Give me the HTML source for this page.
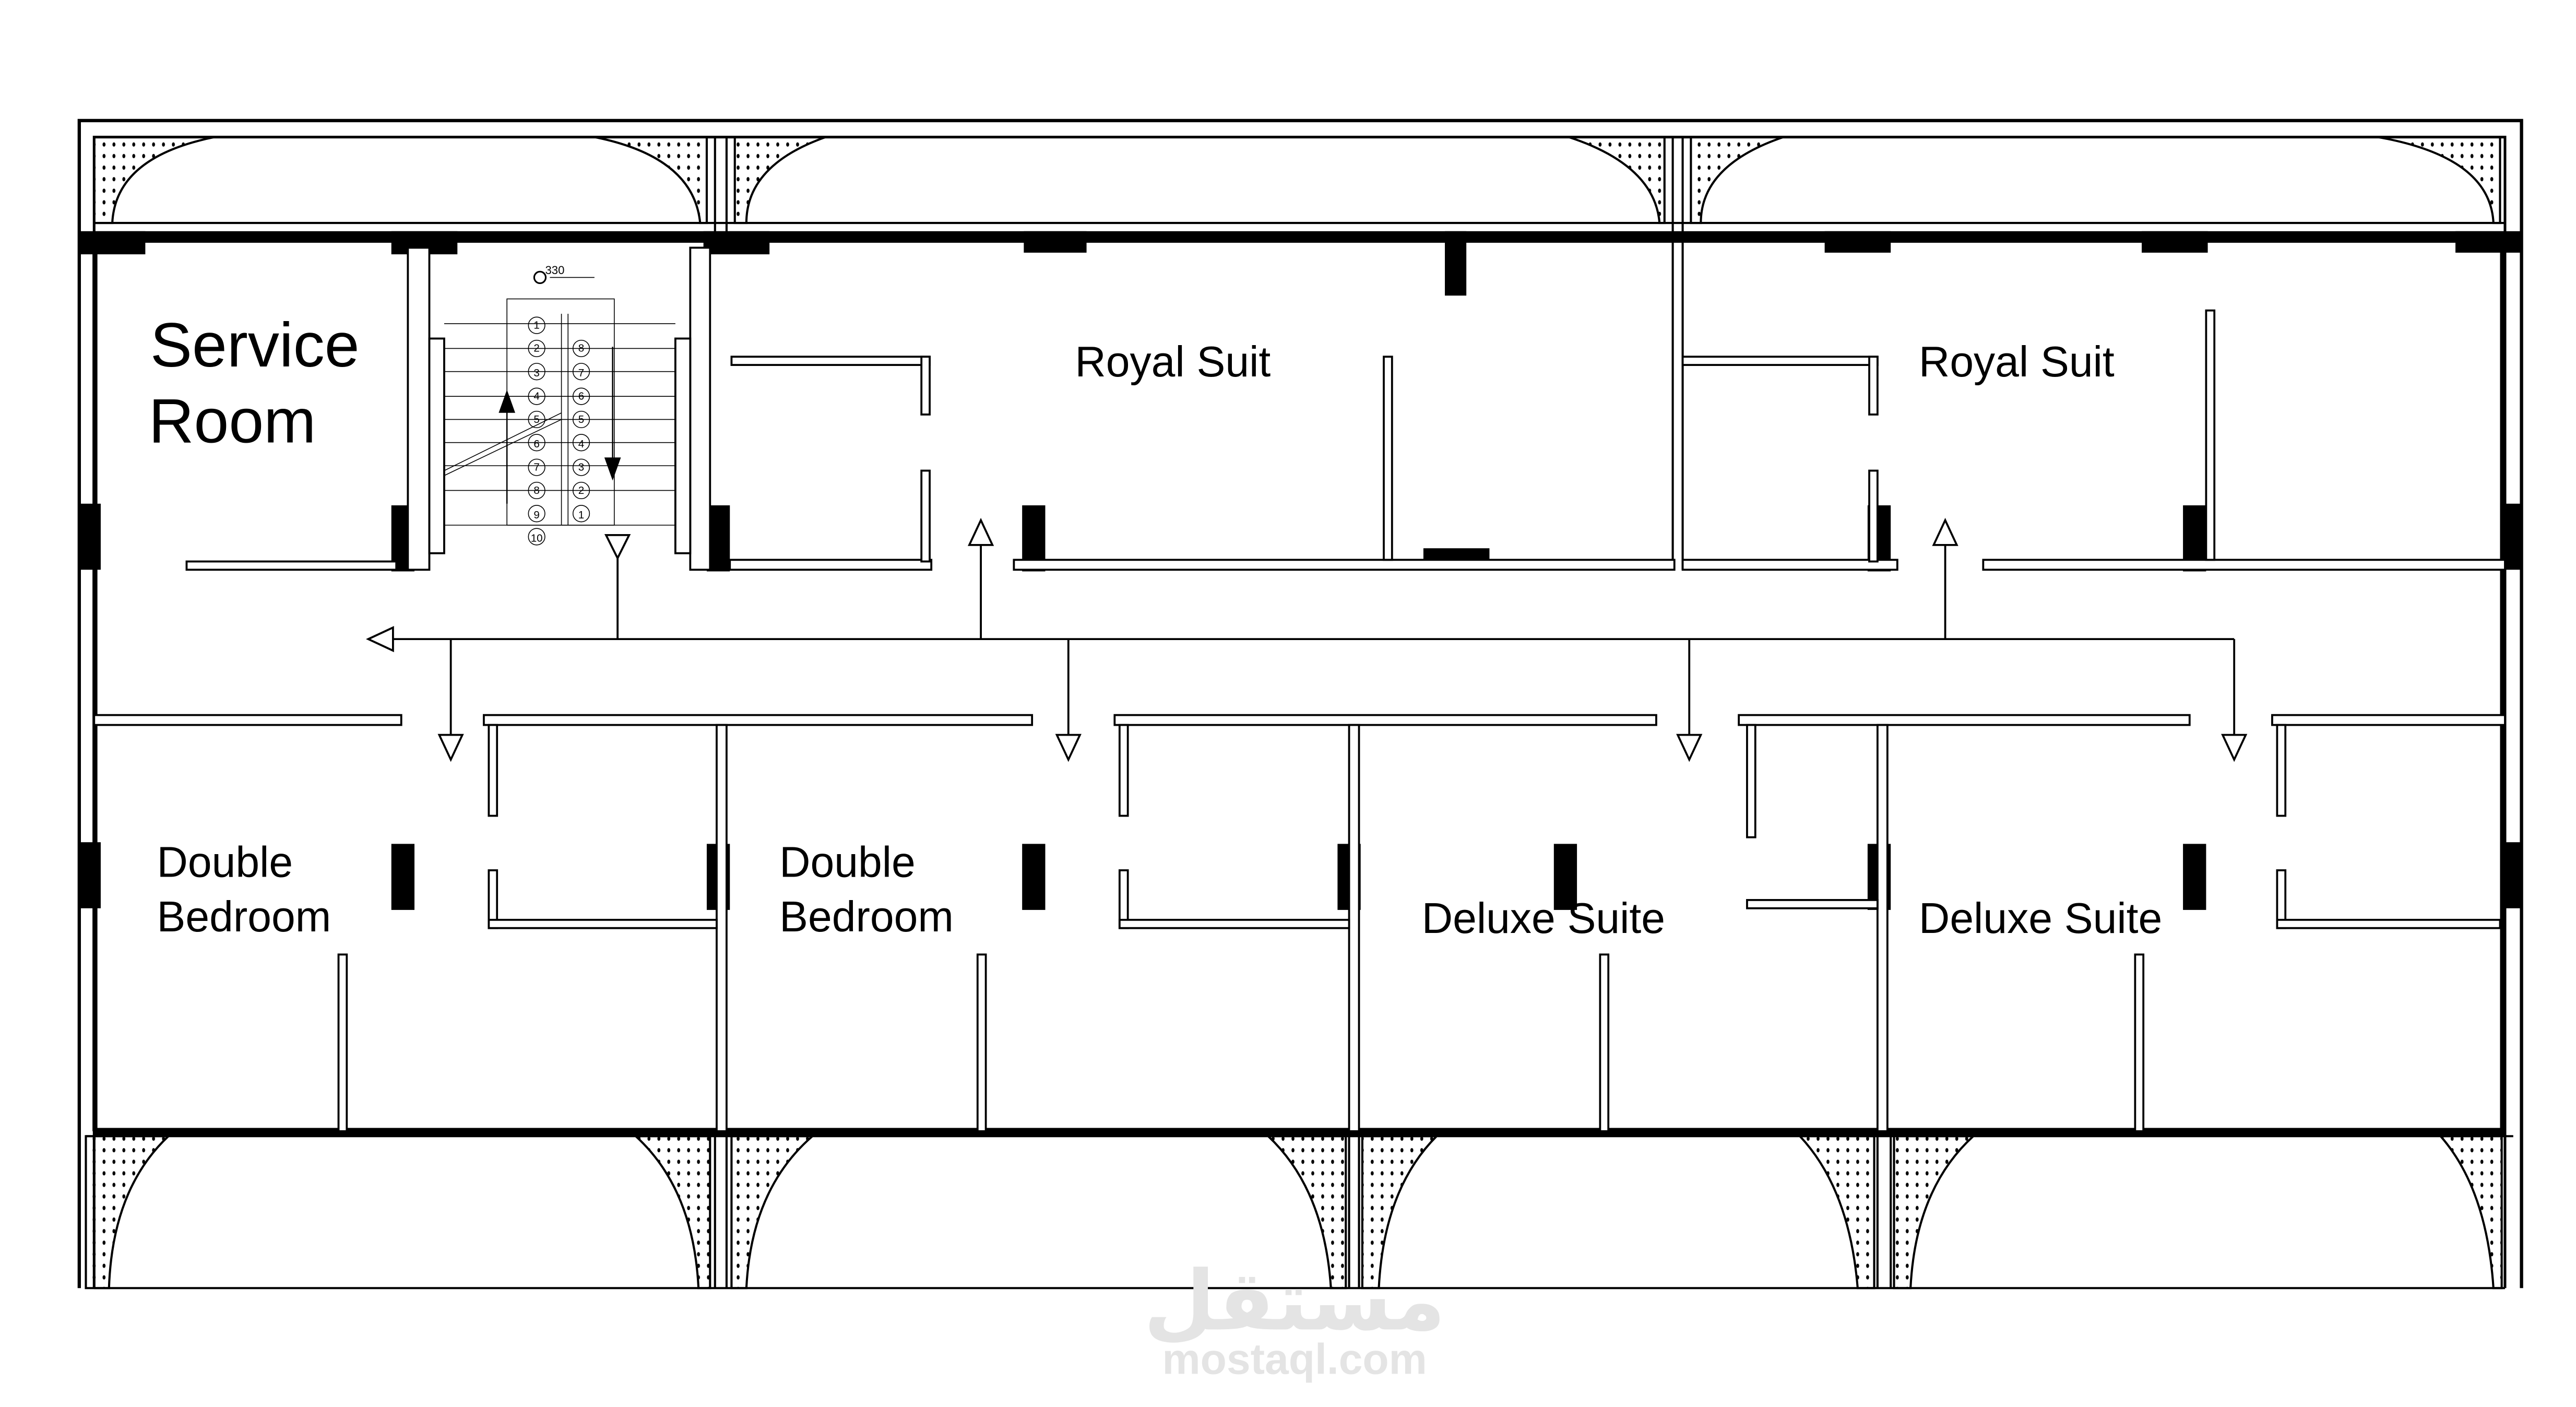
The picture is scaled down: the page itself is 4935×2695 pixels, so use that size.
<!DOCTYPE html>
<html><head><meta charset="utf-8"><style>html,body{margin:0;padding:0;background:#fff}svg{display:block}</style></head>
<body>
<svg width="4935" height="2695" viewBox="0 0 1560 852" preserveAspectRatio="none" xmlns="http://www.w3.org/2000/svg">
<defs>
<pattern id="dots" width="6" height="7" patternUnits="userSpaceOnUse">
<ellipse cx="3" cy="3.5" rx="0.9" ry="1.3" fill="#000"/>
</pattern>
</defs>
<rect width="1560" height="852" fill="#fff"/>
<g fill="none" stroke="#000" stroke-width="1.3">
<!-- outer top band -->
<path d="M48 780 V73 H1527 V780" stroke-width="2"/>
<path d="M57 780 V83 H1517 V780" stroke-width="1.6"/>
<line x1="57" y1="135" x2="1517" y2="135"/>
<line x1="433" y1="83" x2="433" y2="150"/><line x1="440" y1="83" x2="440" y2="150"/>
<line x1="1013" y1="83" x2="1013" y2="345"/><line x1="1019" y1="83" x2="1019" y2="345"/>
<!-- top arches with dotted fill -->
<path d="M57 83 H130 Q70 95 68 135 H57 Z" fill="url(#dots)"/>
<path d="M428 83 H360 Q420 95 424 135 H428 Z" fill="url(#dots)"/>
<path d="M445 83 H500 Q452 100 452 135 H445 Z" fill="url(#dots)"/>
<path d="M1008 83 H950 Q1002 100 1005 135 H1008 Z" fill="url(#dots)"/>
<path d="M1024 83 H1080 Q1030 100 1030 135 H1024 Z" fill="url(#dots)"/>
<path d="M1514 83 H1440 Q1508 95 1510 135 H1514 Z" fill="url(#dots)"/>
<!-- bottom band -->
<line x1="57" y1="780" x2="1517" y2="780"/>
<line x1="433" y1="688" x2="433" y2="780"/><line x1="440" y1="688" x2="440" y2="780"/>
<line x1="817" y1="688" x2="817" y2="780"/><line x1="823" y1="688" x2="823" y2="780"/>
<line x1="1137" y1="688" x2="1137" y2="780"/><line x1="1145" y1="688" x2="1145" y2="780"/>
<path d="M52 688 H102 Q68 720 66 780 H52 Z" fill="url(#dots)"/>
<path d="M430 688 H385 Q420 720 423 780 H430 Z" fill="url(#dots)"/>
<path d="M443 688 H492 Q455 720 452 780 H443 Z" fill="url(#dots)"/>
<path d="M815 688 H768 Q802 720 806 780 H815 Z" fill="url(#dots)"/>
<path d="M825 688 H870 Q838 720 835 780 H825 Z" fill="url(#dots)"/>
<path d="M1135 688 H1090 Q1120 720 1125 780 H1135 Z" fill="url(#dots)"/>
<path d="M1147 688 H1195 Q1160 720 1157 780 H1147 Z" fill="url(#dots)"/>
<path d="M1515 688 H1478 Q1506 720 1510 780 H1515 Z" fill="url(#dots)"/>
<line x1="52" y1="688" x2="1522" y2="688"/>
</g>
<!-- thick walls -->
<rect x="57" y="140" width="1460" height="7" fill="#000"/>
<rect x="57" y="683" width="1460" height="5" fill="#000"/>
<rect x="56" y="145" width="3" height="540" fill="#000"/>
<rect x="1514" y="145" width="3" height="540" fill="#000"/>
<g fill="#000">
<!-- top pillars -->
<rect x="48" y="140" width="40" height="14"/><rect x="237" y="140" width="40" height="14"/>
<rect x="426" y="140" width="40" height="14"/><rect x="620" y="140" width="38" height="13"/>
<rect x="1105" y="140" width="40" height="13"/><rect x="1297" y="140" width="40" height="13"/>
<rect x="1487" y="140" width="40" height="13"/>
<rect x="875" y="140" width="13" height="39"/>
<!-- side pillars -->
<rect x="48" y="305" width="13" height="40"/><rect x="1514" y="305" width="13" height="40"/>
<rect x="48" y="510" width="13" height="40"/><rect x="1514" y="510" width="13" height="40"/>
<!-- corridor pillars -->
<rect x="237" y="306" width="14" height="40"/><rect x="428" y="306" width="14" height="40"/>
<rect x="619" y="306" width="14" height="40"/><rect x="1131" y="306" width="14" height="40"/>
<rect x="1322" y="306" width="14" height="40"/><rect x="862" y="332" width="40" height="13"/>
<rect x="237" y="511" width="14" height="40"/><rect x="428" y="511" width="14" height="40"/>
<rect x="619" y="511" width="14" height="40"/><rect x="810" y="511" width="14" height="40"/>
<rect x="941" y="511" width="14" height="40"/><rect x="1131" y="511" width="14" height="40"/>
<rect x="1322" y="511" width="14" height="40"/>
</g>
<g fill="#fff" stroke="#000" stroke-width="1.2">
<!-- stair walls -->
<rect x="247" y="150" width="13" height="195"/><rect x="260" y="205" width="9" height="130"/>
<rect x="418" y="150" width="12" height="195"/><rect x="409" y="205" width="9" height="130"/>
<rect x="113" y="340" width="127" height="5"/>
<!-- corridor top walls -->
<rect x="442" y="339" width="122" height="6"/>
<rect x="614" y="339" width="400" height="6"/>
<rect x="1019" y="339" width="130" height="6"/>
<rect x="1201" y="339" width="316" height="6"/>
<rect x="443" y="216" width="120" height="5"/><rect x="558" y="216" width="5" height="35"/><rect x="558" y="285" width="5" height="55"/>
<rect x="1019" y="216" width="118" height="5"/><rect x="1132" y="216" width="5" height="35"/><rect x="1132" y="285" width="5" height="55"/>
<rect x="838" y="216" width="5" height="123"/>
<rect x="1336" y="188" width="5" height="151"/>
<!-- corridor bottom walls -->
<rect x="57" y="433" width="186" height="6"/>
<rect x="293" y="433" width="332" height="6"/>
<rect x="675" y="433" width="328" height="6"/>
<rect x="1053" y="433" width="273" height="6"/>
<rect x="1376" y="433" width="141" height="6"/>
<rect x="434" y="439" width="6" height="246"/>
<rect x="817" y="439" width="6" height="246"/>
<rect x="1137" y="439" width="6" height="246"/>
<rect x="296" y="439" width="5" height="55"/><rect x="296" y="527" width="5" height="35"/><rect x="296" y="557" width="138" height="5"/>
<rect x="678" y="439" width="5" height="55"/><rect x="678" y="527" width="5" height="35"/><rect x="678" y="557" width="139" height="5"/>
<rect x="1058" y="439" width="5" height="68"/><rect x="1058" y="545" width="79" height="5"/>
<rect x="1379" y="439" width="5" height="55"/><rect x="1379" y="527" width="5" height="35"/><rect x="1379" y="557" width="135" height="5"/>
<rect x="205" y="578" width="5" height="107"/>
<rect x="592" y="578" width="5" height="107"/>
<rect x="969" y="578" width="5" height="107"/>
<rect x="1293" y="578" width="5" height="107"/>
</g>
<!-- stairs -->
<g stroke="#000" stroke-width="0.5" fill="none">
<rect x="307" y="181" width="65" height="137"/>
<line x1="340" y1="190" x2="340" y2="318"/><line x1="344" y1="190" x2="344" y2="318"/>
<path d="M269 196H409M269 211H409M269 225H409M269 240H409M269 254H409M269 268H409M269 282H409M269 297H409M269 318H409"/>
<line x1="269" y1="285" x2="340" y2="250"/><line x1="269" y1="288" x2="340" y2="254"/>
<line x1="307" y1="240" x2="307" y2="305" stroke-width="0.8"/>
<line x1="371" y1="210" x2="371" y2="280" stroke-width="0.8"/>
<line x1="333" y1="168" x2="360" y2="168"/>
<circle cx="327" cy="168" r="3.5" stroke-width="1"/>
</g>
<path d="M302 250 L307 236 L312 250 Z" fill="#000"/>
<path d="M366 277 L371 291 L376 277 Z" fill="#000"/>
<g font-family="Liberation Sans, sans-serif" font-size="7" fill="#000" text-anchor="middle">
<text x="336" y="166">330</text>
<g font-size="6.5">
<text x="325" y="199">1</text><text x="325" y="213">2</text><text x="325" y="228">3</text><text x="325" y="242">4</text><text x="325" y="256">5</text><text x="325" y="271">6</text><text x="325" y="285">7</text><text x="325" y="299">8</text><text x="325" y="314">9</text><text x="325" y="328">10</text>
<text x="352" y="213">8</text><text x="352" y="228">7</text><text x="352" y="242">6</text><text x="352" y="256">5</text><text x="352" y="271">4</text><text x="352" y="285">3</text><text x="352" y="299">2</text><text x="352" y="314">1</text>
</g>
</g>
<g fill="none" stroke="#000" stroke-width="0.5">
<circle cx="325" cy="197" r="5"/><circle cx="325" cy="211" r="5"/><circle cx="325" cy="225" r="5"/><circle cx="325" cy="240" r="5"/><circle cx="325" cy="254" r="5"/><circle cx="325" cy="268" r="5"/><circle cx="325" cy="283" r="5"/><circle cx="325" cy="297" r="5"/><circle cx="325" cy="311" r="5"/><circle cx="325" cy="325" r="5"/>
<circle cx="352" cy="211" r="5"/><circle cx="352" cy="225" r="5"/><circle cx="352" cy="240" r="5"/><circle cx="352" cy="254" r="5"/><circle cx="352" cy="268" r="5"/><circle cx="352" cy="283" r="5"/><circle cx="352" cy="297" r="5"/><circle cx="352" cy="311" r="5"/>
</g>
<!-- circulation arrows -->
<g stroke="#000" stroke-width="1.2" fill="#fff">
<line x1="236" y1="387" x2="1353" y2="387"/>
<path d="M223 387 L238 380 L238 394 Z"/>
<line x1="374" y1="338" x2="374" y2="387"/><path d="M367 324 L381 324 L374 338 Z"/>
<line x1="594" y1="330" x2="594" y2="387"/><path d="M587 330 L601 330 L594 315 Z"/>
<line x1="1178" y1="330" x2="1178" y2="387"/><path d="M1171 330 L1185 330 L1178 315 Z"/>
<line x1="273" y1="387" x2="273" y2="445"/><path d="M266 445 L280 445 L273 460 Z"/>
<line x1="647" y1="387" x2="647" y2="445"/><path d="M640 445 L654 445 L647 460 Z"/>
<line x1="1023" y1="387" x2="1023" y2="445"/><path d="M1016 445 L1030 445 L1023 460 Z"/>
<line x1="1353" y1="387" x2="1353" y2="445"/><path d="M1346 445 L1360 445 L1353 460 Z"/>
</g>
<!-- labels -->
<g font-family="Liberation Sans, sans-serif" fill="#000">
<text x="91" y="222" font-size="38">Service</text>
<text x="90" y="268" font-size="38">Room</text>
<text x="651" y="228" font-size="26">Royal Suit</text>
<text x="1162" y="228" font-size="26">Royal Suit</text>
<text x="95" y="531" font-size="26">Double</text>
<text x="95" y="564" font-size="26">Bedroom</text>
<text x="472" y="531" font-size="26">Double</text>
<text x="472" y="564" font-size="26">Bedroom</text>
<text x="861" y="565" font-size="26">Deluxe Suite</text>
<text x="1162" y="565" font-size="26">Deluxe Suite</text>
</g>
<g font-family="Liberation Sans, 'DejaVu Sans', sans-serif" fill="#e4e4e4" font-weight="bold" text-anchor="middle">
<text x="784" y="805" font-size="50">مستقل</text>
<text x="784" y="832" font-size="26">mostaql.com</text>
</g>
</svg>
</body></html>
